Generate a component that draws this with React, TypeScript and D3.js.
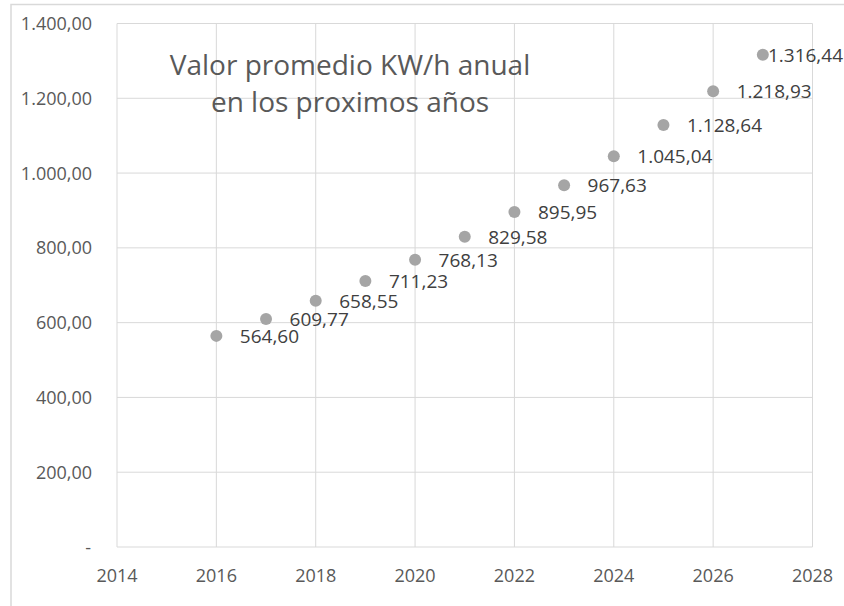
import React, { useEffect, useRef } from 'react';
import * as d3 from 'd3';

const years = [2016, 2017, 2018, 2019, 2020, 2021, 2022, 2023, 2024, 2025, 2026, 2027];
const values = [564.60, 609.77, 658.55, 711.23, 768.13, 829.58, 895.95, 967.63, 1045.04, 1128.64, 1218.93, 1316.44];
const xTicks = [2014, 2016, 2018, 2020, 2022, 2024, 2026, 2028];
const yTicks = [0, 200, 400, 600, 800, 1000, 1200, 1400];
const titleLines = ['Valor promedio KW/h anual', 'en los proximos años'];

const W = 844;
const H = 606;
const FONT = '"Open Sans", "Noto Sans", sans-serif';

function App() {
  const svgRef = useRef<SVGSVGElement>(null);

  useEffect(() => {
    const svg = d3.select(svgRef.current);
    svg.selectAll('*').remove();

    const locale = d3.formatLocale({ decimal: ',', thousands: '.', grouping: [3], currency: ['', ''] });
    const fmt = locale.format(',.2f');

    const x = d3.scaleLinear().domain([2014, 2028]).range([117, 812.5]);
    const y = d3.scaleLinear().domain([0, 1400]).range([547, 23.5]);

    // chart border (cut off at right / bottom)
    svg.append('rect')
      .attr('x', 11).attr('y', 4.5)
      .attr('width', 900).attr('height', 700)
      .attr('fill', 'white')
      .attr('stroke', '#d9d9d9').attr('stroke-width', 1.5);

    // gridlines
    svg.append('g').selectAll('line.h')
      .data(yTicks)
      .enter().append('line')
      .attr('x1', x(2014)).attr('x2', x(2028))
      .attr('y1', d => y(d)).attr('y2', d => y(d))
      .attr('stroke', '#d9d9d9').attr('stroke-width', 1);

    svg.append('g').selectAll('line.v')
      .data(xTicks)
      .enter().append('line')
      .attr('y1', y(0)).attr('y2', y(1400))
      .attr('x1', d => x(d)).attr('x2', d => x(d))
      .attr('stroke', '#d9d9d9').attr('stroke-width', 1);

    // y labels
    svg.append('g').selectAll('text')
      .data(yTicks)
      .enter().append('text')
      .attr('x', d => d === 0 ? 91 : 92)
      .attr('y', d => y(d) + 6.5)
      .attr('text-anchor', 'end')
      .attr('font-family', FONT).attr('font-size', 18)
      .attr('fill', '#595959')
      .text(d => d === 0 ? '-' : fmt(d));

    // x labels
    svg.append('g').selectAll('text')
      .data(xTicks)
      .enter().append('text')
      .attr('x', d => x(d))
      .attr('y', 582)
      .attr('text-anchor', 'middle')
      .attr('font-family', FONT).attr('font-size', 18)
      .attr('fill', '#595959')
      .text(d => d);

    // points
    svg.append('g').selectAll('circle')
      .data(years)
      .enter().append('circle')
      .attr('cx', d => x(d))
      .attr('cy', (d, i) => y(values[i]))
      .attr('r', 6)
      .attr('fill', '#a5a5a5');

    // data labels
    svg.append('g').selectAll('text')
      .data(years)
      .enter().append('text')
      .attr('x', (d, i) => i === years.length - 1 ? 843 : x(d) + 23.5)
      .attr('y', (d, i) => y(values[i]) + 7)
      .attr('text-anchor', (d, i) => i === years.length - 1 ? 'end' : 'start')
      .attr('font-family', FONT).attr('font-size', 19)
      .attr('fill', '#404040')
      .text((d, i) => fmt(values[i]));

    // title
    svg.append('g').selectAll('text')
      .data(titleLines)
      .enter().append('text')
      .attr('x', 350)
      .attr('y', (d, i) => 75 + i * 37)
      .attr('text-anchor', 'middle')
      .attr('font-family', FONT).attr('font-size', 28)
      .attr('fill', '#595959')
      .text(d => d);
  }, []);

  return (
    <svg ref={svgRef} width={W} height={H}
      style={{ position: 'absolute', left: 0, top: 0, background: 'white' }} />
  );
}

export default App;
